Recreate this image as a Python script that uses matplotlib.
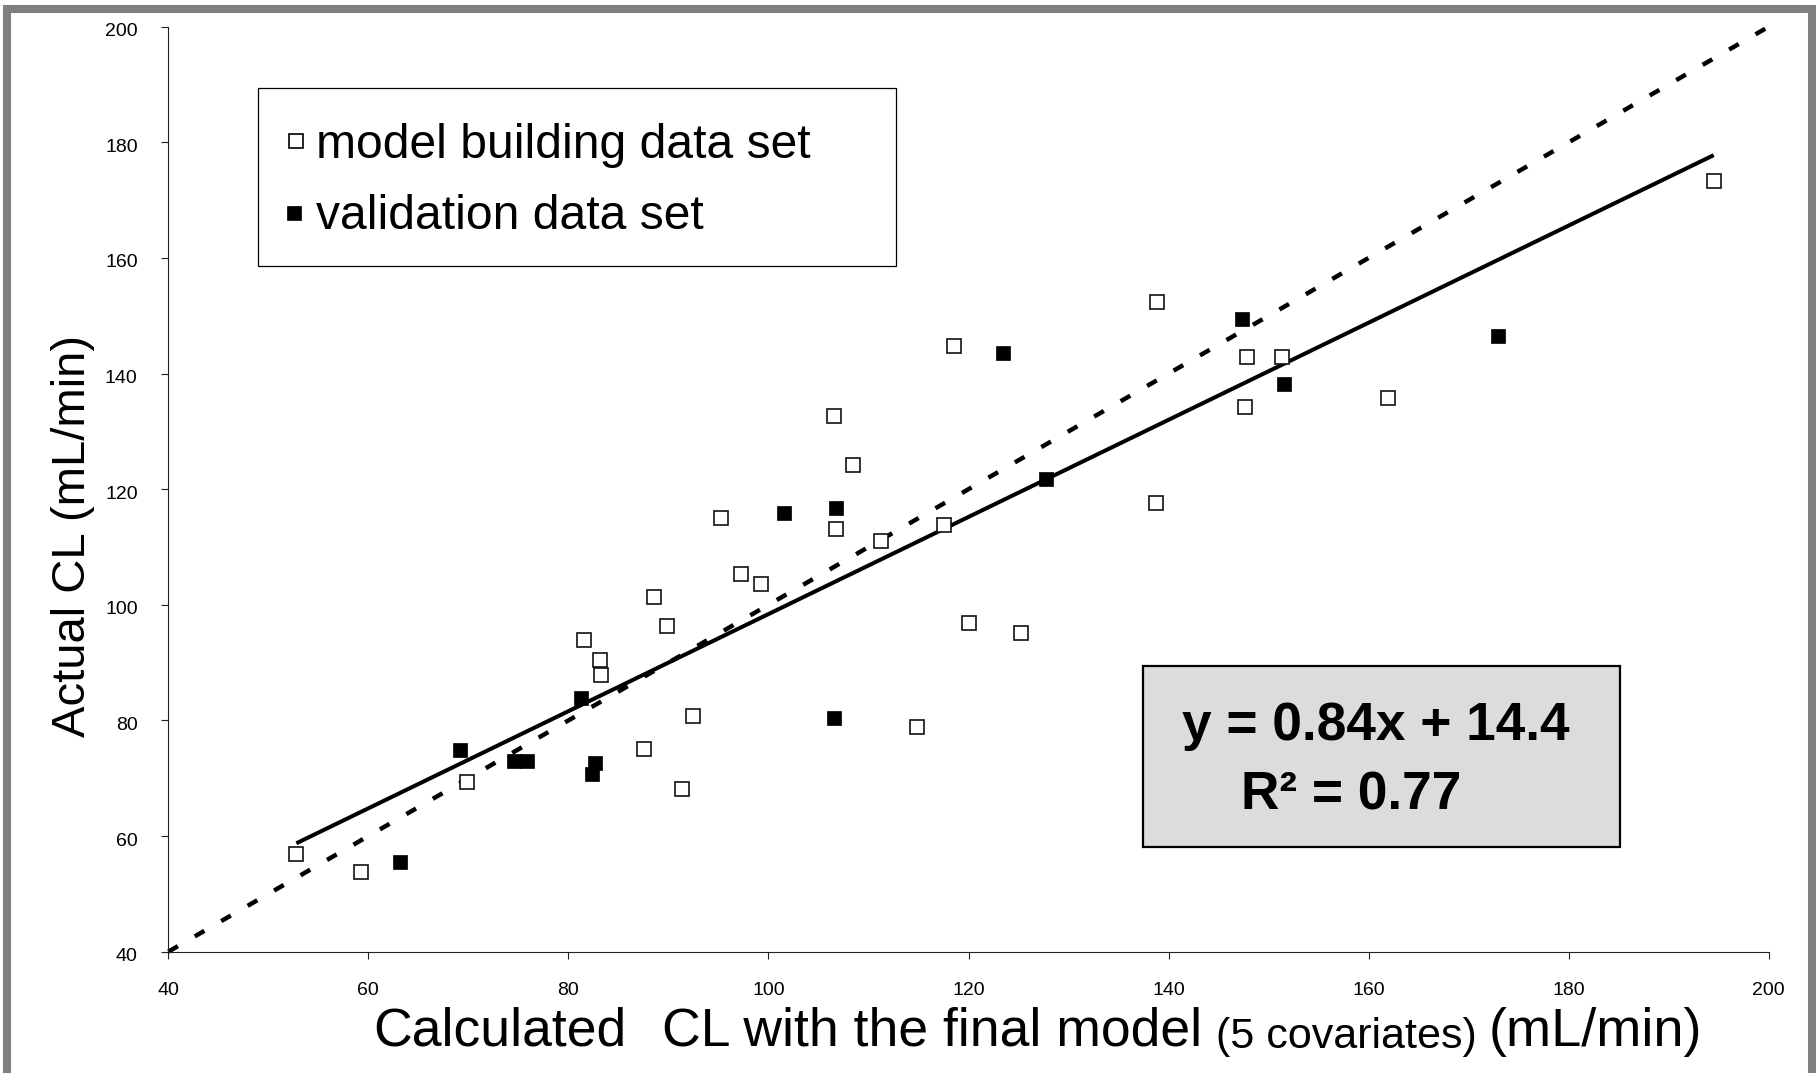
import matplotlib
matplotlib.use("Agg")
import matplotlib.pyplot as plt
from matplotlib.patches import Rectangle
from matplotlib.lines import Line2D
from matplotlib.transforms import ScaledTranslation

plt.rcParams['font.family'] = ['Liberation Sans', 'DejaVu Sans']
plt.rcParams['lines.scale_dashes'] = False

# ---------------- data ----------------
model_x = [52.8, 59.3, 69.9, 81.6, 83.2, 83.3, 88.6, 89.9, 87.6, 92.5, 91.4, 97.3,
           95.3, 99.3, 106.6, 108.5, 106.8, 111.3, 117.6, 118.6, 120.0, 125.2, 114.9,
           138.8, 138.7, 194.5, 147.8, 151.3, 147.6, 161.9]
model_y = [56.9, 53.7, 69.4, 93.9, 90.5, 87.9, 101.4, 96.4, 75.1, 80.8, 68.2, 105.3,
           115.0, 103.6, 132.7, 124.1, 113.1, 111.1, 113.8, 144.8, 96.8, 95.2, 78.8,
           152.4, 117.6, 173.3, 142.8, 142.8, 134.3, 135.8]
valid_x = [63.2, 69.2, 74.6, 75.9, 81.3, 82.7, 82.4, 101.6, 106.8, 106.6, 123.4, 127.7,
           147.3, 151.5, 172.9]
valid_y = [55.6, 74.9, 73.0, 73.0, 83.9, 72.6, 70.7, 115.8, 116.8, 80.5, 143.6, 121.8,
           149.4, 138.2, 146.5]
slope, intercept, r2 = 0.84, 14.4, 0.77
x_ticks = [40, 60, 80, 100, 120, 140, 160, 180, 200]
y_ticks = [40, 60, 80, 100, 120, 140, 160, 180, 200]
legend_labels = ["model building data set", "validation data set"]
xlabel_parts = ["Calculated", "CL with the final model", "(5 covariates)", "(mL/min)"]
ylabel = "Actual CL (mL/min)"

# ---------------- figure ----------------
W, H = 1819, 1073
fig = plt.figure(figsize=(W / 100, H / 100), dpi=100)
fig.patch.set_facecolor('white')

def fx(x):
    return x / W

def fy(y):
    return 1 - y / H

L, R, T, B = 168.3, 1768.7, 26.7, 951.7
ax = fig.add_axes([fx(L), fy(B), (R - L) / W, (B - T) / H])
ax.set_xlim(x_ticks[0], x_ticks[-1])
ax.set_ylim(y_ticks[0], y_ticks[-1])
ax.set_xticks(x_ticks)
ax.set_yticks(y_ticks)
for s in ['top', 'right']:
    ax.spines[s].set_visible(False)
for s in ['left', 'bottom']:
    ax.spines[s].set_linewidth(0.8)
    ax.spines[s].set_color('#222222')
ax.tick_params(direction='out', length=5, width=0.8, color='#222222',
               labelsize=14, pad=17)
for lab in ax.get_yticklabels():
    lab.set_transform(lab.get_transform() + ScaledTranslation(0, -3 / 100, fig.dpi_scale_trans))

# identity line (dashed)
ax.plot([x_ticks[0], x_ticks[-1]], [y_ticks[0], y_ticks[-1]], color='black', lw=3.2,
        dashes=(8, 14), dash_capstyle='butt', zorder=2, clip_on=False)
# regression line
fx0, fx1 = min(model_x), max(model_x)
ax.plot([fx0, fx1], [slope * fx0 + intercept, slope * fx1 + intercept], color='black',
        lw=2.9, solid_capstyle='butt', zorder=3)

ax.plot(model_x, model_y, ls='none', marker='s', ms=10, mfc='white', mec='#111111',
        mew=1.2, zorder=4, clip_on=False)
ax.plot(valid_x, valid_y, ls='none', marker='s', ms=10.5, mfc='black', mec='black',
        mew=0.5, zorder=5, clip_on=False)

# ---------------- legend box ----------------
fig.add_artist(Rectangle((fx(257.5), fy(266)), (895.6 - 257.5) / W, (266 - 87.7) / H,
                         transform=fig.transFigure, facecolor='white', edgecolor='black',
                         lw=0.9, zorder=6))
fig.add_artist(Line2D([fx(296)], [fy(141)], transform=fig.transFigure, marker='s', ms=10,
                      mfc='white', mec='black', mew=1.2, ls='none', zorder=7))
fig.add_artist(Line2D([fx(294)], [fy(213)], transform=fig.transFigure, marker='s', ms=10.5,
                      mfc='black', mec='black', mew=0.5, ls='none', zorder=7))
fig.text(fx(316), fy(158), legend_labels[0], fontsize=34.6, va='baseline', ha='left', zorder=7)
fig.text(fx(316), fy(229), legend_labels[1], fontsize=34.6, va='baseline', ha='left', zorder=7)

# ---------------- equation box ----------------
fig.add_artist(Rectangle((fx(1142.5), fy(846.5)), (1620 - 1142.5) / W, (846.5 - 666) / H,
                         transform=fig.transFigure, facecolor='#dcdcdc', edgecolor='black',
                         lw=1.6, zorder=6))
fig.text(fx(1182), fy(740), f"y = {slope:.2f}x + {intercept:.1f}", fontsize=38.3,
         fontweight='bold', va='baseline', ha='left', zorder=7)
fig.text(fx(1241), fy(810), f"R\u00b2 = {r2:.2f}", fontsize=38.3,
         fontweight='bold', va='baseline', ha='left', zorder=7)

# ---------------- axis labels ----------------
fig.text(fx(73), fy(536), ylabel, fontsize=34, rotation=90, va='center', ha='center')
xl_pos = [373.5, 662.4, 1215.7, 1489]
xl_size = [38.5, 38.5, 31, 39]
xl_base = [1046, 1046, 1048, 1046]
for txt, xp, fs, yb in zip(xlabel_parts, xl_pos, xl_size, xl_base):
    fig.text(fx(xp), fy(yb), txt, fontsize=fs, va='baseline', ha='left')

# ---------------- outer frame ----------------
fig.add_artist(Rectangle((fx(7), fy(1200)), (1812 - 7) / W, (1200 - 9) / H,
                         transform=fig.transFigure, facecolor='none', edgecolor='#808080',
                         lw=5.8, zorder=10, clip_on=False))

fig.savefig("out.png", dpi=100)
